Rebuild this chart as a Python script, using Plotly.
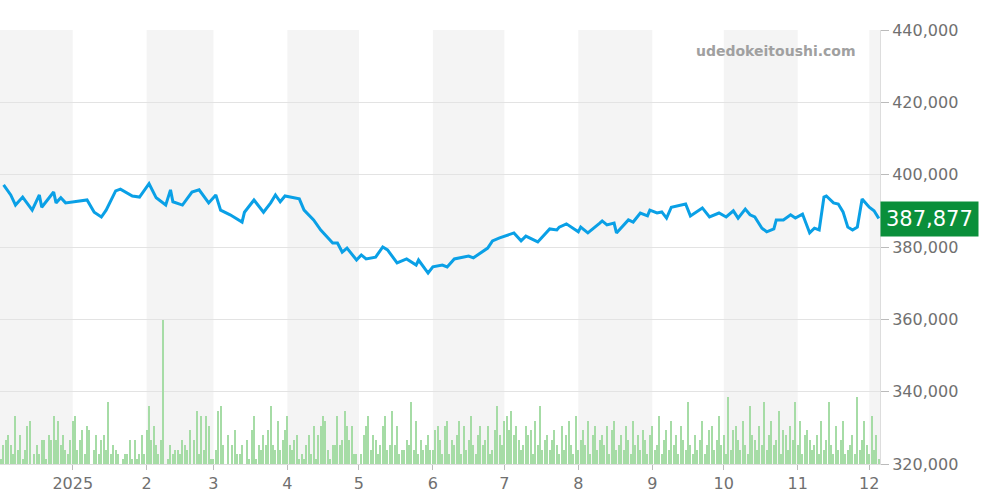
import datetime as dt
import plotly.graph_objects as go

# price observations: day offset from 2025-01-01, price (thousands)
price_days = [-29,-26,-24,-21,-17,-14,-13,-8,-7,-5,-3,6,9,12,14,18,20,25,28,30,32,35,39,41,42,46,50,53,57,60,62,66,71,72,76,80,83,85,87,89,95,97,101,104,109,111,113,115,119,121,123,127,130,132,136,140,144,145,149,151,155,157,160,166,168,174,176,179,185,188,190,195,200,203,204,207,212,213,216,221,222,224,227,228,233,235,238,241,242,245,247,249,251,257,259,264,267,271,274,277,279,282,284,286,289,291,294,295,298,301,303,306,309,311,313,315,316,319,321,323,325,327,329,331,334,336,338]
prices = [397.2,394.4,391.6,393.8,390.2,394.4,391.0,395.2,392.2,393.6,392.2,393.0,389.6,388.3,390.2,395.5,396.0,394.1,393.8,395.8,397.5,393.6,391.6,395.8,392.5,391.6,395.2,395.8,392.2,394.4,390.2,388.9,386.9,389.6,393.0,389.6,392.2,394.4,392.5,394.1,393.3,390.2,387.5,384.7,381.1,381.1,378.6,379.7,376.4,377.8,376.7,377.2,380.0,379.2,375.6,376.7,375.0,376.4,372.8,374.5,375.0,374.5,376.7,377.5,377.0,379.7,381.7,382.5,383.9,381.7,383.0,381.4,385.0,384.7,385.5,386.4,384.2,385.5,383.9,386.6,387.2,386.1,386.6,383.9,387.5,386.9,389.4,388.6,390.2,389.4,389.7,388.0,391.0,391.9,388.6,390.8,388.3,389.4,388.3,390.0,388.0,390.5,388.9,388.3,385.2,384.2,385.0,387.5,387.5,388.9,388.0,389.1,383.9,385.2,384.7,393.8,394.1,392.2,391.9,389.7,385.5,384.7,385.5,393.3,391.0,390.0,387.877]

# daily volume from 2024-12-02 (day -30) onward
volumes = [
 1,4,5,6,4,2,10,3,6,1, 3,8,9,0,2,4,2,5,5,1, 6,5,10,5,9,4,6,3,2,5,
 9,10,3,5,7,2,8,7,0,3, 6,2,5,6,3,13,2,4,3,2, 0,1,2,2,5,1,5,1,2,6, 2,7,12,5,8,4,2,5,30,0,
 1,4,2,3,3,2,5,4,3,7, 0,5,11,2,10,3,10,8,1,1, 3,11,12,4,0,6,0,4,7,2, 2,4,0,5,1,7,10,1,4,3,
 6,4,7,12,4,3,9,3,5,7, 10,4,3,5,6,1,2,1,4,6, 2,8,1,6,8,10,9,3,1,4, 4,10,4,5,11,8,5,8,2,2,
 0,2,6,8,10,3,6,5,2,4, 8,10,3,4,11,4,8,2,3,3, 5,4,13,3,9,2,5,3,4,6, 3,3,7,8,5,2,8,9,2,5,
 4,6,9,2,8,3,5,10,4,2, 6,8,4,5,8,2,3,7,12,6, 4,9,10,7,11,6,8,5,3,4, 8,6,7,2,9,4,12,3,5,6,
 3,5,7,4,2,8,3,6,9,4, 2,10,3,5,7,4,9,2,6,8, 3,5,6,4,8,2,7,9,3,4, 6,3,8,5,2,9,4,6,3,7,
 5,2,6,8,3,4,10,2,5,7, 3,9,4,6,2,8,5,3,13,4, 2,6,3,5,9,2,4,7,8,3, 5,10,4,6,2,14,3,7,8,5,
 3,9,4,2,12,6,5,3,8,4, 13,3,6,9,4,5,11,2,7,6, 3,8,5,13,4,9,2,6,7,5, 3,
 4,6,2,9,3,5,13,4,2,8, 3,5,9,2,3,4, 6,2,14,3,5,9,4,2,10,3,6,1
]
start_day = -30

month_starts = ["2024-12-01","2025-01-01","2025-02-01","2025-03-01","2025-04-01","2025-05-01","2025-06-01",
                "2025-07-01","2025-08-01","2025-09-01","2025-10-01","2025-11-01","2025-12-01","2026-01-01"]
tick_vals = month_starts[1:13]
tick_text = ["2025","2","3","4","5","6","7","8","9","10","11","12"]

base = dt.date(2025, 1, 1)
pdates = [base + dt.timedelta(days=d) for d in price_days]
vdates = [base + dt.timedelta(days=start_day + i) for i in range(len(volumes))]
pvals = [p * 1000 for p in prices]

x_start = "2024-12-01 12:00"
x_end = "2025-12-05 12:00"

fig = go.Figure()
fig.add_trace(go.Bar(x=vdates, y=volumes, yaxis="y2", marker_color="#a6dca6",
                     marker_line_width=0, width=86400000 * 0.5, showlegend=False))
fig.add_trace(go.Scatter(x=pdates, y=pvals, mode="lines", line=dict(color="#0aa0e6", width=3),
                         showlegend=False))

shapes = []
for i in range(0, len(month_starts) - 1, 2):
    shapes.append(dict(type="rect", xref="x", yref="paper", x0=month_starts[i], x1=month_starts[i + 1],
                       y0=0, y1=1, fillcolor="#f4f4f4", line_width=0, layer="below"))

fig.update_layout(
    width=1000, height=500, margin=dict(l=0, r=120, t=30, b=36, autoexpand=False),
    plot_bgcolor="white", paper_bgcolor="white",
    font=dict(family="DejaVu Sans", color="#707070", size=16),
    shapes=shapes, bargap=0,
    xaxis=dict(range=[x_start, x_end], tickvals=tick_vals, ticktext=tick_text, showgrid=False,
               ticks="outside", ticklen=5, tickcolor="#bbbbbb", zeroline=False,
               showline=True, linecolor="#dddddd"),
    yaxis=dict(side="right", range=[320000, 440000], dtick=20000, tickformat=",",
               gridcolor="#e3e3e3", ticks="outside", ticklen=8, tickcolor="#bbbbbb",
               zeroline=False, showline=True, linecolor="#dddddd"),
    yaxis2=dict(overlaying="y", range=[0, 90.4], visible=False),
    annotations=[
        dict(text="<b>udedokeitoushi.com</b>", xref="paper", yref="paper", x=0.975, y=0.975,
             xanchor="right", yanchor="top", showarrow=False,
             font=dict(size=14, color="#a0a0a0", family="DejaVu Sans")),
        dict(text="387,877", xref="paper", yref="y", x=1.0, y=387877, xanchor="left",
             yanchor="middle", showarrow=False, bgcolor="#0a8f3a", borderpad=5,
             font=dict(size=21, color="white")),
    ],
)
fig.write_html("out.html", post_script="document.body.style.margin='0';",
               config={"displayModeBar": False})
